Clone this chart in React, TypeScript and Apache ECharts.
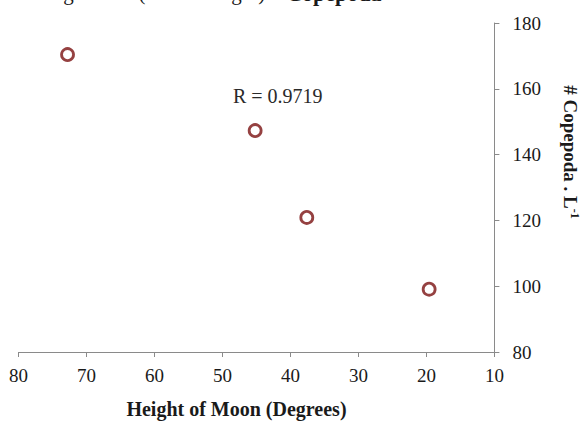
import React, { useEffect, useRef } from "react";
import * as echarts from "echarts";

const moonHeight = [72.8, 45.2, 37.6, 19.6];
const copepoda = [170.4, 147.3, 120.9, 99.1];
const xTicks = { min: 10, max: 80, interval: 10 };
const yTicks = { min: 80, max: 180, interval: 20 };
const rLabel = "R = 0.9719";
const titleNormal = "Regression (Moon Height) – ";
const titleBold = "Copepoda";
const xName = "Height of Moon (Degrees)";

export default function App() {
  const ref = useRef<HTMLDivElement>(null);
  useEffect(() => {
    if (!ref.current) return;
    const chart = echarts.init(ref.current, null, { renderer: "svg" });
    const font = "'Liberation Serif', 'Times New Roman', serif";
    chart.setOption({
      animation: false,
      backgroundColor: "#ffffff",
      grid: { left: 18.6, right: 90.6, top: 23, bottom: 69 },
      xAxis: {
        type: "value",
        inverse: true,
        min: xTicks.min,
        max: xTicks.max,
        interval: xTicks.interval,
        splitLine: { show: false },
        axisLine: { show: true, lineStyle: { color: "#8a8a8a", width: 1 } },
        axisTick: { show: true, length: 5, lineStyle: { color: "#8a8a8a" } },
        axisLabel: { color: "#1a1a1a", fontFamily: font, fontSize: 19, margin: 14 },
        name: xName,
        nameLocation: "middle",
        nameGap: 47,
        nameTextStyle: {
          color: "#1a1a1a",
          fontFamily: font,
          fontSize: 20,
          fontWeight: "bold",
          padding: [0, 40, 0, 0],
        },
      },
      yAxis: {
        type: "value",
        position: "right",
        min: yTicks.min,
        max: yTicks.max,
        interval: yTicks.interval,
        splitLine: { show: false },
        axisLine: { show: true, lineStyle: { color: "#8a8a8a", width: 1 } },
        axisTick: { show: true, length: 5, lineStyle: { color: "#8a8a8a" } },
        axisLabel: { color: "#1a1a1a", fontFamily: font, fontSize: 19, margin: 18 },
      },
      series: [
        {
          type: "scatter",
          data: moonHeight.map((x, i) => [x, copepoda[i]]),
          symbol: "circle",
          symbolSize: 12,
          itemStyle: { color: "#ffffff", borderColor: "#7a1212", borderWidth: 2.8 },
        },
      ],
      graphic: [
        {
          type: "text",
          left: 233,
          top: 86,
          style: { text: rLabel, font: `20px ${font}`, fill: "#2a2a2a" },
        },
        {
          type: "text",
          x: 570,
          y: 152,
          rotation: -Math.PI / 2,
          style: {
            text: "{a|# Copepoda . L}{s|-1}",
            align: "center",
            verticalAlign: "middle",
            rich: {
              a: { font: `bold 19px ${font}`, fill: "#1a1a1a" },
              s: { font: `bold 12px ${font}`, fill: "#1a1a1a", verticalAlign: "top", padding: [0, 0, 9, 0] },
            },
          },
        },
        {
          type: "text",
          x: 40,
          y: 4,
          style: {
            text: "{n|" + titleNormal + "}{b|" + titleBold + "}",
            verticalAlign: "bottom",
            rich: {
              n: { font: `21px ${font}`, fill: "#1a1a1a" },
              b: { font: `bold 22px ${font}`, fill: "#1a1a1a" },
            },
          },
        },
      ],
    });
    return () => chart.dispose();
  }, []);
  return (
    <div
      ref={ref}
      style={{ position: "absolute", left: 0, top: 0, width: 585, height: 424 }}
    />
  );
}
